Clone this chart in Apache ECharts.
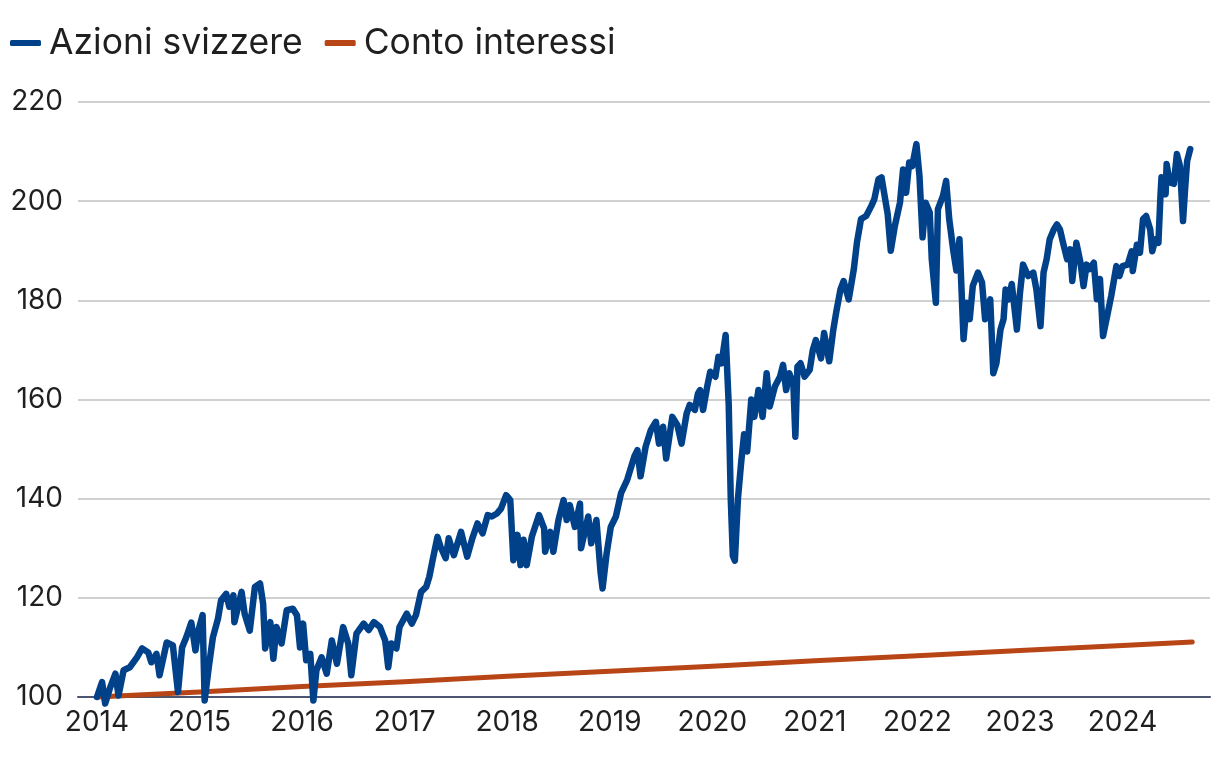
<!DOCTYPE html>
<html>
<head>
<meta charset="utf-8">
<script src="https://cdn.jsdelivr.net/npm/echarts@6/dist/echarts.min.js"></script>
<style>
html,body{margin:0;padding:0;background:#fff;}
#chart{width:1220px;height:758px;}
</style>
</head>
<body>
<div id="chart"></div>
<script>
// Decimal-year dates and index values for "Azioni svizzere"
const azioniDates = [
2014.00,2014.05,2014.08,2014.13,2014.18,2014.21,2014.26,2014.32,2014.39,2014.44,
2014.50,2014.53,2014.58,2014.61,2014.68,2014.74,2014.79,2014.83,2014.87,2014.92,
2014.96,2014.99,2015.03,2015.05,2015.09,2015.13,2015.18,2015.21,2015.26,2015.29,
2015.33,2015.34,2015.41,2015.44,2015.49,2015.54,2015.59,2015.62,2015.64,2015.69,
2015.72,2015.75,2015.80,2015.85,2015.91,2015.95,2015.98,2016.01,2016.04,2016.08,
2016.11,2016.14,2016.19,2016.24,2016.29,2016.34,2016.40,2016.45,2016.48,2016.53,
2016.60,2016.65,2016.70,2016.76,2016.81,2016.84,2016.87,2016.92,2016.95,2017.02,
2017.07,2017.11,2017.16,2017.21,2017.24,2017.27,2017.32,2017.35,2017.40,2017.43,
2017.48,2017.55,2017.61,2017.66,2017.71,2017.76,2017.81,2017.85,2017.90,2017.94,
2017.99,2018.03,2018.06,2018.10,2018.13,2018.16,2018.19,2018.24,2018.31,2018.36,
2018.37,2018.42,2018.45,2018.50,2018.55,2018.58,2018.61,2018.66,2018.71,2018.72,
2018.79,2018.82,2018.87,2018.91,2018.93,2018.97,2019.01,2019.06,2019.11,2019.17,
2019.24,2019.27,2019.30,2019.35,2019.40,2019.45,2019.48,2019.52,2019.55,2019.61,
2019.66,2019.70,2019.75,2019.78,2019.83,2019.86,2019.88,2019.91,2019.95,2019.98,
2020.03,2020.06,2020.09,2020.13,2020.16,2020.18,2020.20,2020.22,2020.25,2020.28,
2020.31,2020.34,2020.38,2020.41,2020.45,2020.49,2020.53,2020.56,2020.61,2020.66,
2020.69,2020.72,2020.75,2020.79,2020.81,2020.83,2020.86,2020.90,2020.95,2020.98,
2021.01,2021.06,2021.09,2021.14,2021.18,2021.21,2021.25,2021.28,2021.33,2021.38,
2021.41,2021.45,2021.50,2021.55,2021.58,2021.62,2021.65,2021.68,2021.71,2021.74,
2021.78,2021.83,2021.86,2021.89,2021.92,2021.95,2021.99,2022.02,2022.05,2022.08,
2022.12,2022.14,2022.18,2022.20,2022.25,2022.28,2022.31,2022.35,2022.38,2022.41,
2022.45,2022.48,2022.51,2022.54,2022.59,2022.63,2022.66,2022.71,2022.74,2022.77,
2022.81,2022.84,2022.86,2022.89,2022.92,2022.97,2023.00,2023.03,2023.08,2023.13,
2023.16,2023.20,2023.23,2023.26,2023.29,2023.33,2023.36,2023.39,2023.42,2023.46,
2023.49,2023.51,2023.55,2023.59,2023.62,2023.65,2023.68,2023.72,2023.75,2023.78,
2023.81,2023.85,2023.89,2023.94,2023.97,2024.00,2024.05,2024.09,2024.10,2024.14,
2024.17,2024.20,2024.23,2024.27,2024.29,2024.32,2024.35,2024.37,2024.38,2024.42,
2024.43,2024.46,2024.50,2024.53,2024.56,2024.59,2024.61,2024.63,2024.66
];
const azioniValues = [
100.0,103.0,98.7,102.0,104.7,100.3,105.4,106.0,108.0,109.8,
109.0,107.0,108.7,104.4,111.0,110.4,101.0,110.0,112.0,115.0,
109.4,113.5,116.5,99.3,106.0,112.0,115.8,119.5,120.8,118.2,
120.5,115.1,121.2,116.8,113.4,122.2,122.9,118.8,109.8,115.1,
107.7,114.1,110.8,117.5,117.8,116.5,110.0,114.8,107.4,108.7,
99.3,105.4,108.0,104.7,111.4,106.7,114.1,110.8,104.4,112.8,
114.8,113.5,115.1,114.1,111.4,106.0,110.8,109.8,114.1,116.8,
114.8,116.5,121.2,122.2,124.2,127.3,132.3,130.3,128.0,132.0,
128.6,133.3,128.3,132.0,135.0,133.0,136.7,136.4,137.0,138.0,
140.7,139.7,127.6,132.7,126.6,131.7,126.6,132.3,136.7,134.0,
129.3,133.3,129.3,135.7,139.7,135.7,138.7,134.3,139.0,130.0,
136.4,131.0,135.7,125.3,121.9,129.0,134.3,136.4,141.1,143.8,
148.5,149.8,144.5,150.5,153.8,155.5,151.1,154.5,148.1,156.5,
154.8,151.1,157.2,158.9,157.9,161.2,161.9,157.9,162.6,165.6,
164.6,168.6,167.3,173.0,159.0,140.0,128.5,127.5,140.0,147.0,
153.0,149.5,160.0,156.5,161.9,156.5,165.3,158.6,162.6,164.6,
167.0,161.9,165.3,163.3,152.5,166.6,167.3,164.6,166.0,170.0,
172.0,168.3,173.4,167.7,174.1,177.8,182.2,183.9,180.2,186.3,
191.6,196.4,197.0,199.0,200.4,204.4,204.8,201.1,197.4,190.0,
195.0,199.7,206.4,201.7,207.8,207.1,211.5,205.1,192.7,199.7,
197.7,188.3,179.5,198.4,201.1,204.1,196.4,190.0,186.0,192.3,
172.2,179.5,176.2,182.9,185.6,183.6,176.2,180.2,165.3,167.3,
174.1,176.2,182.2,180.2,183.3,174.1,181.5,187.2,184.9,185.6,
182.2,174.8,185.6,188.3,192.3,194.3,195.3,194.3,191.6,188.3,
190.3,183.9,191.6,187.6,182.9,187.2,186.3,187.6,180.2,184.3,
172.8,176.8,180.9,186.9,184.9,186.9,187.2,189.9,185.9,191.2,
189.6,196.4,197.0,194.3,189.9,192.3,191.6,201.1,204.8,201.4,
207.5,203.8,203.5,209.5,207.1,196.0,202.4,208.1,210.5
];
// "Conto interessi"
const contoDates = [2014,2015,2016,2017,2018,2019,2020,2021,2022,2023,2024,2024.68];
const contoValues = [100.0,101.0,102.1,103.1,104.2,105.2,106.2,107.3,108.3,109.4,110.4,111.1];
const yearLabels = [2014,2015,2016,2017,2018,2019,2020,2021,2022,2023,2024];
const seriesNames = ['Azioni svizzere','Conto interessi'];

const zip = (xs, ys) => xs.map((x, i) => [x, ys[i]]);
const FONT = 'Inter, "Noto Sans", sans-serif';
const chart = echarts.init(document.getElementById('chart'), null, {renderer: 'canvas'});
chart.setOption({
  animation: false,
  backgroundColor: '#ffffff',
  textStyle: {fontFamily: FONT},
  legend: {
    left: 5, top: 20, padding: 5,
    icon: 'roundRect', itemWidth: 31, itemHeight: 6, itemGap: 22,
    textStyle: {fontSize: 35.5, color: '#1f1f1f', fontFamily: FONT, padding: [0, 0, 0, 3]},
    data: seriesNames
  },
  grid: {left: 78, right: 10, top: 102, bottom: 61, containLabel: false},
  xAxis: {
    type: 'value', min: 2013.815, max: 2024.853,
    axisLabel: {customValues: yearLabels, formatter: v => String(Math.round(v)),
      fontSize: 28, color: '#1f1f1f', margin: 12, fontFamily: FONT},
    axisTick: {show: false},
    splitLine: {show: false},
    axisLine: {show: true, lineStyle: {color: '#4d5670', width: 2}}
  },
  yAxis: {
    type: 'value', min: 100, max: 220, interval: 20,
    axisLabel: {fontSize: 28, color: '#1f1f1f', margin: 15, fontFamily: FONT},
    axisTick: {show: false},
    axisLine: {show: false},
    splitLine: {lineStyle: {color: '#d0d0d0', width: 2}}
  },
  series: [
    {
      name: seriesNames[0], type: 'line', data: zip(azioniDates, azioniValues),
      showSymbol: false, symbol: 'none', clip: false, z: 4,
      color: '#00418a',
      lineStyle: {color: '#00418a', width: 6.5, cap: 'round', join: 'round'}
    },
    {
      name: seriesNames[1], type: 'line', data: zip(contoDates, contoValues),
      showSymbol: false, symbol: 'none', clip: false, z: 3,
      color: '#b84516',
      lineStyle: {color: '#b84516', width: 5, cap: 'round', join: 'round'}
    }
  ]
});
</script>
</body>
</html>
